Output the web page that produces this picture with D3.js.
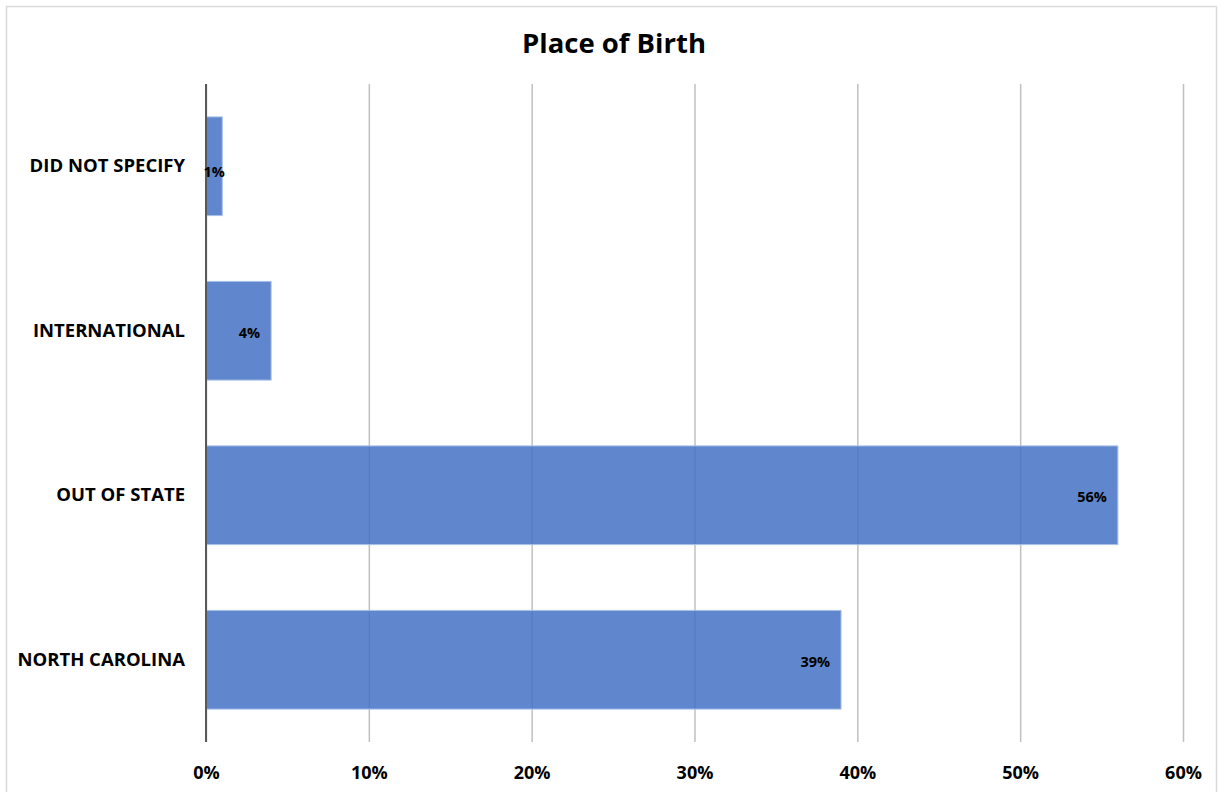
<!DOCTYPE html>
<html><head><meta charset="utf-8">
<script src="https://cdn.jsdelivr.net/npm/d3@7/dist/d3.min.js"></script>
<style>body{margin:0;background:#fff}svg{display:block}text{font-family:"Open Sans",sans-serif;font-weight:bold;fill:#000}</style>
</head><body><svg id="c" width="1221" height="792"></svg>
<script>
const title = "Place of Birth";
const categories = ["DID NOT SPECIFY","INTERNATIONAL","OUT OF STATE","NORTH CAROLINA"];
const values = [1,4,56,39];
const labels = ["1%","4%","56%","39%"];
const tickValues = [0,10,20,30,40,50,60];

const svg = d3.select("#c");
svg.append("rect").attr("x",6.5).attr("y",6.5).attr("width",1210).attr("height",800)
  .attr("fill","#fff").attr("stroke","#d9d9d9").attr("stroke-width",1.5);

const x = d3.scaleLinear().domain([0,60]).range([206,1183]);
const y = d3.scaleBand().domain(categories).range([84,742]).paddingInner(0.4).paddingOuter(0.2);

// gridlines
const gx = d3.axisBottom(x).tickValues(tickValues).tickSize(-(742-84)).tickFormat(d=>d+"%");
const ga = svg.append("g").attr("transform","translate(0,742)").call(gx);
ga.select(".domain").remove();
ga.selectAll(".tick line").attr("stroke","#c0c0c0").attr("stroke-width",1.5);
ga.selectAll(".tick text").attr("dy",0).attr("y",37).style("font-size","18px");

// bars
svg.append("g").selectAll("rect").data(values).join("rect")
  .attr("x",x(0)).attr("y",(d,i)=>y(categories[i]))
  .attr("width",d=>x(d)-x(0)).attr("height",y.bandwidth())
  .attr("fill","#4472c4").attr("fill-opacity",0.85)
  .attr("stroke","#a9c0e8").attr("stroke-width",1);

// zero axis line
svg.append("line").attr("x1",x(0)).attr("x2",x(0)).attr("y1",84).attr("y2",742)
  .attr("stroke","#595959").attr("stroke-width",2);

// data labels
svg.append("g").selectAll("text").data(values).join("text")
  .attr("y",(d,i)=>y(categories[i])+y.bandwidth()/2+(d<2?11:7))
  .style("font-size","14.5px")
  .text((d,i)=>labels[i])
  .each(function(d){
    const w = this.getComputedTextLength();
    const end = x(d)-11;
    const s = d3.select(this);
    if (end - w < x(0)) s.attr("x",(x(0)+x(d))/2).attr("text-anchor","middle");
    else s.attr("x",end).attr("text-anchor","end");
  });

// category labels
const ya = d3.axisLeft(y).tickSize(0).tickPadding(0);
const yg = svg.append("g").attr("transform","translate(185,0)").call(ya);
yg.select(".domain").remove();
yg.selectAll(".tick text").style("font-size","18.5px");

svg.append("text").attr("x",614).attr("y",53).attr("text-anchor","middle")
  .style("font-size","27.5px").text(title);
</script></body></html>
